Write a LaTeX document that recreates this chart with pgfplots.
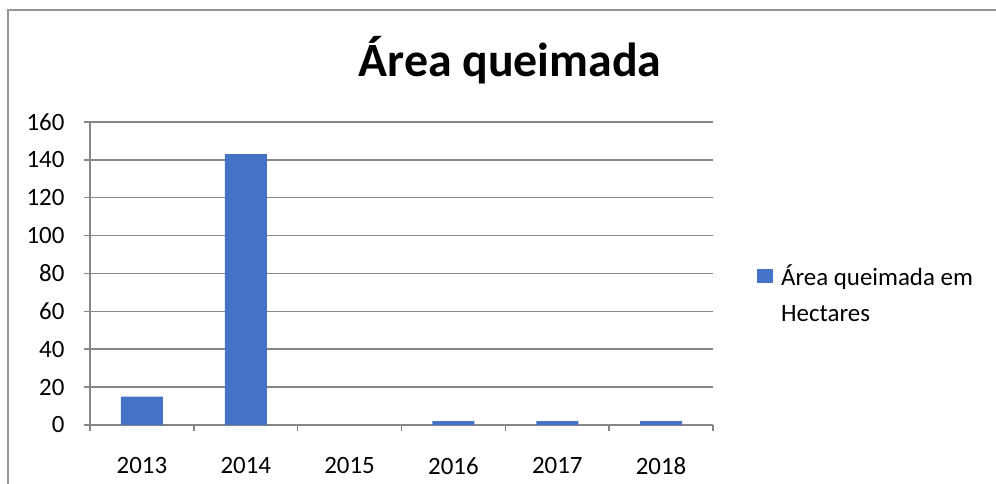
\documentclass[border=0pt]{standalone}
\usepackage{pgfplots}
\pgfplotsset{compat=1.18}
\usepackage{fontspec}
\setmainfont{Carlito}

\definecolor{barblue}{RGB}{68,114,196}
\definecolor{gridgray}{RGB}{134,134,134}
\definecolor{framegray}{RGB}{150,150,150}

\begin{document}
\begin{tikzpicture}
\useasboundingbox (0,0) rectangle (996bp,484bp);
\draw[framegray, line width=2bp] (8bp,0) -- (8bp,474bp) -- (996bp,474bp);

\node[anchor=base, font=\fontsize{48}{54}\selectfont\bfseries] at (510bp,407bp) {Área queimada};

\begin{axis}[
at={(90bp,59bp)},
anchor=south west,
width=623bp,
height=303bp,
scale only axis,
ybar,
bar width=42bp,
xmin=-0.5, xmax=5.5,
ymin=0, ymax=160,
ytick={0,20,...,160},
xtick={-0.5,0.5,...,5.5},
xticklabels={,,,,,,,},
extra x ticks={0,1,2,3,4,5},
extra x tick labels={2013,2014,2015,2016,2017,2018},
extra x tick style={tick style={draw=none}},
axis x line=bottom,
axis y line=left,
axis line style={-, gridgray, line width=1.5bp},
tick style={gridgray, line width=1.5bp},
major tick length=6bp,
tick align=outside,
ymajorgrids,
y grid style={gridgray, line width=1.5bp},
/pgf/number format/assume math mode=true,
tick label style={font=\fontsize{25}{30}\selectfont},
xticklabel style={yshift=-23bp},
yticklabel style={xshift=-16bp},
legend style={
  draw=none, fill=none,
  at={(axis description cs:1.0706,0.432)},
  anchor=west,
  inner sep=0pt,
  font=\fontsize{25}{36}\selectfont,
  cells={anchor=west, align=left},
},
legend image code/.code={\fill[#1] (0bp,11.5bp) rectangle (16bp,25.5bp);
  \path (22bp,0bp);},
]
\addplot[fill=barblue, draw=none] coordinates {
(0,15) (1,143) (2,0) (3,2) (4,2) (5,2)
};
\addlegendentry{Área queimada em\\Hectares}
\end{axis}
\end{tikzpicture}
\end{document}
